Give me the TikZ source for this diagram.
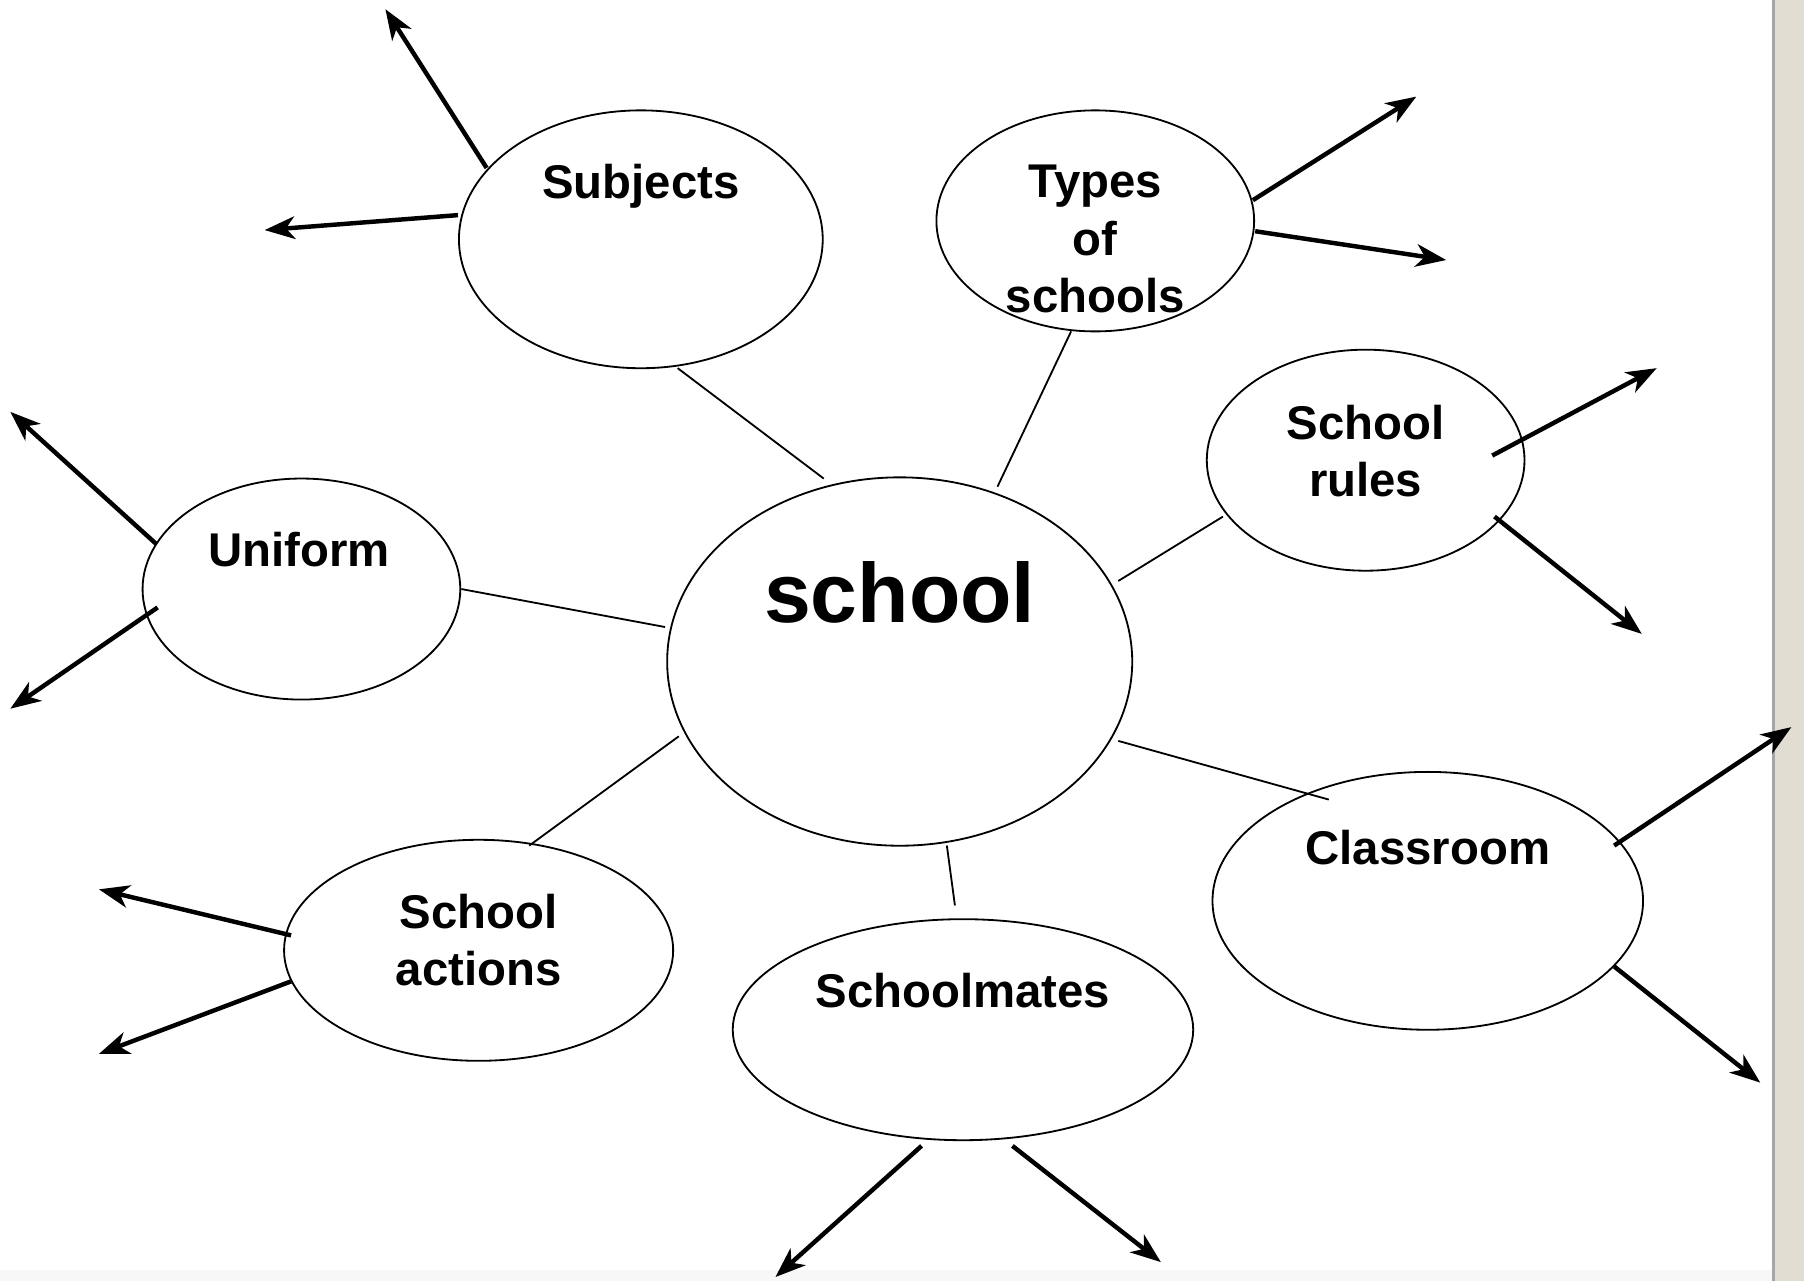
\documentclass[tikz,border=0pt]{standalone}
\usepackage{fontspec}
\setmainfont{Liberation Sans}
\usetikzlibrary{shapes.geometric,arrows.meta}
\begin{document}
\begin{tikzpicture}[x=0.01cm,y=-0.01cm,
  bub/.style={draw,ellipse,line width=0.45pt,inner sep=0pt},
  lbl/.style={font=\fontsize{11.7}{14.2}\selectfont\bfseries,align=center,inner sep=0pt},
  link/.style={line width=0.45pt},
  arr/.style={line width=1.1pt,-{Stealth[length=7.5pt,width=5.6pt,inset=2.2pt]}}]
% background and frame
\fill[white] (0,0) rectangle (1568,1113);
\useasboundingbox (0,0) rectangle (1568,1113);
\fill[black!3] (0,1104) rectangle (1540,1113);
\fill[fill={rgb,255:red,226;green,221;blue,211}] (1540,0) rectangle (1568,1113);
\fill[black!35] (1540,0) rectangle (1542.5,1113);

% bubbles
\node[bub,minimum width=3.16cm,minimum height=2.24cm] (subj) at (557,208) {};
\node[bub,minimum width=2.76cm,minimum height=1.92cm] (types) at (952,192) {};
\node[bub,minimum width=2.76cm,minimum height=1.92cm] (rules) at (1187,400) {};
\node[bub,minimum width=2.76cm,minimum height=1.92cm] (unif) at (262,512) {};
\node[bub,minimum width=4.04cm,minimum height=3.20cm] (school) at (782,575) {};
\node[bub,minimum width=3.74cm,minimum height=2.24cm] (class) at (1241,783) {};
\node[bub,minimum width=3.38cm,minimum height=1.92cm] (acts) at (416,826) {};
\node[bub,minimum width=4.00cm,minimum height=1.92cm] (mates) at (837,895) {};

% labels
\node[lbl] (tsubj) at (557,162) {Subjects};
\node[lbl] (ttypes) at (952,208) {Types\\of\\schools};
\node[lbl] (trules) at (1187,392) {School\\rules};
\node[lbl] (tunif) at (260,478) {Uniform};
\node[lbl,font=\fontsize{20.8}{24}\selectfont\bfseries] (tschool) at (782,515) {school};
\node[lbl] (tclass) at (1241,737) {Classroom};
\node[lbl] (tacts) at (416,817) {School\\actions};
\node[lbl] (tmates) at (837,861) {Schoolmates};

% thin connectors
\coordinate (c1a) at (589,320); \coordinate (c1b) at (716,416);
\coordinate (c2a) at (931,288); \coordinate (c2b) at (867,423);
\coordinate (c3a) at (1063,449); \coordinate (c3b) at (972,505);
\coordinate (c4a) at (401,512); \coordinate (c4b) at (578,545);
\coordinate (c5a) at (460,735); \coordinate (c5b) at (590,640);
\coordinate (c6a) at (823,735); \coordinate (c6b) at (830,787);
\coordinate (c7a) at (972,644); \coordinate (c7b) at (1155,695);
\draw[link] (c1a) -- (c1b);
\draw[link] (c2a) -- (c2b);
\draw[link] (c3a) -- (c3b);
\draw[link] (c4a) -- (c4b);
\draw[link] (c5a) -- (c5b);
\draw[link] (c6a) -- (c6b);
\draw[link] (c7a) -- (c7b);

% thick arrows
\coordinate (s1) at (423,146); \coordinate (e1) at (335,8);
\coordinate (s2) at (398,187); \coordinate (e2) at (230,200);
\coordinate (s3) at (1089,174); \coordinate (e3) at (1231,84);
\coordinate (s4) at (1091,201); \coordinate (e4) at (1257,226);
\coordinate (s5) at (1297,396); \coordinate (e5) at (1440,320);
\coordinate (s6) at (1299,449); \coordinate (e6) at (1427,551);
\coordinate (s7) at (136,473); \coordinate (e7) at (9,358);
\coordinate (s8) at (137,528); \coordinate (e8) at (9,616);
\coordinate (s9) at (253,813); \coordinate (e9) at (86,773);
\coordinate (s10) at (253,853); \coordinate (e10) at (86,916);
\coordinate (s11) at (801,996); \coordinate (e11) at (674,1110);
\coordinate (s12) at (880,996); \coordinate (e12) at (1009,1097);
\coordinate (s13) at (1403,735); \coordinate (e13) at (1557,632);
\coordinate (s14) at (1403,840); \coordinate (e14) at (1530,941);
\foreach \i in {1,...,14} {\draw[arr] (s\i) -- (e\i);}
\end{tikzpicture}
\end{document}
